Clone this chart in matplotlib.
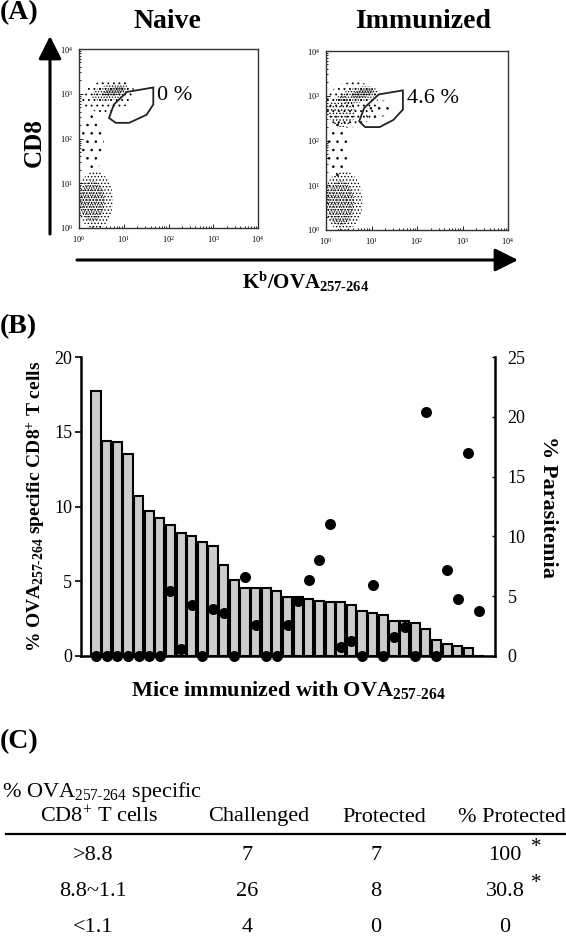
import matplotlib
matplotlib.use('Agg')
import matplotlib.pyplot as plt
from matplotlib.patches import Ellipse, Polygon, FancyArrowPatch
from matplotlib.lines import Line2D
import numpy as np

plt.rcParams['font.family'] = ['Liberation Serif', 'DejaVu Serif']
plt.rcParams['mathtext.fontset'] = 'custom'
plt.rcParams['mathtext.rm'] = 'Liberation Serif'
plt.rcParams['mathtext.default'] = 'regular'
plt.rcParams['hatch.linewidth'] = 0.6

W, H = 566, 942

# ---- data ----
# panel A: populations (decade coords: log10 of intensity)
naive_cx = [0.65, 0.70, 0.78, 0.30, 0.36, 0.30]
naive_cy = [2.95, 3.03, 3.05, 1.90, 0.62, 0.60]
naive_w = [1.20, 0.85, 0.50, 0.50, 0.80, 0.55]
naive_h = [0.70, 0.35, 0.18, 1.30, 1.30, 0.90]
naive_ang = [10, 12, 15, 0, 0, 0]
naive_dens = ['...', '......', '.........', '..', '.....', '.......']
naive_gate_x = [1.07, 1.66, 1.66, 1.51, 1.12, 0.82, 0.67, 0.78]
naive_gate_y = [3.04, 3.14, 2.76, 2.53, 2.35, 2.35, 2.46, 2.76]

imm_cx = [0.55, 0.35, 0.72, 0.80, 1.15, 0.25, 0.38, 0.32]
imm_cy = [2.80, 2.65, 3.02, 3.05, 2.68, 1.80, 0.65, 0.60]
imm_w = [1.20, 0.60, 0.85, 0.50, 0.60, 0.45, 0.85, 0.60]
imm_h = [1.00, 0.70, 0.35, 0.18, 0.35, 1.20, 1.35, 1.00]
imm_ang = [20, 0, 12, 15, 30, 0, 0, 0]
imm_dens = ['...', '.....', '......', '.........', '..', '..', '.....', '.......']
imm_gate_x = [1.16, 1.69, 1.69, 1.48, 1.18, 0.86, 0.73, 0.84]
imm_gate_y = [3.03, 3.12, 2.69, 2.46, 2.30, 2.30, 2.43, 2.73]

gate_pct = ['0 %', '4.6 %']

# panel B
ova_pct = [17.7, 14.4, 14.3, 13.5, 10.7, 9.67, 9.24, 8.75, 8.2, 8.06, 7.64, 7.33,
           6.08, 5.06, 4.57, 4.57, 4.57, 4.32, 3.96, 3.96, 3.8, 3.7, 3.6, 3.6,
           3.43, 2.98, 2.85, 2.72, 2.32, 2.32, 2.23, 1.83, 1.1, 0.78, 0.68, 0.53, 0.0]
parasitemia = [0, 0, 0, 0, 0, 0, 0, 5.4, 0.56, 4.25, 0, 3.95, 3.56, 0, 6.6, 2.6,
               0, 0, 2.6, 4.6, 6.37, 8.0, 11.0, 0.78, 1.22, 0, 5.97, 0, 1.56, 2.39,
               0, 20.4, 0, 7.2, 4.79, 17.0, 3.8]

# panel C
groups = ['>8.8', '8.8~1.1', '<1.1']
challenged = [7, 26, 4]
protected = [7, 8, 0]
pct_protected = ['100', '30.8', '0']
signif = ['*', '*', '']


def fx(px):
    return px / W


def fy(py):
    return 1 - py / H


fig = plt.figure(figsize=(W / 100, H / 100), dpi=100)

# ---------------- panel A ----------------
def flow_panel(rect, cx, cy, w, h, ang, dens, gx, gy, label):
    ax = fig.add_axes(rect)
    ax.set_xlim(0, 4)
    ax.set_ylim(0, 4)
    for i in range(len(cx)):
        e = Ellipse((cx[i], cy[i]), w[i], h[i], angle=ang[i], fill=False,
                    edgecolor='black', lw=0, hatch=dens[i])
        ax.add_patch(e)
    ax.add_patch(Polygon(np.column_stack([gx, gy]), closed=True, fill=False,
                         edgecolor='#222222', lw=1.3))
    ax.text(max(gx) + 0.08, max(gy) - 0.18, label, fontsize=16, va='center', ha='left')
    dec = np.arange(5)
    minor = np.concatenate([np.log10(np.arange(2, 10)) + d for d in range(4)])
    ax.set_xticks(dec)
    ax.set_yticks(dec)
    ax.set_xticks(minor, minor=True)
    ax.set_yticks(minor, minor=True)
    ticklabels = ['$10^{%d}$' % d for d in dec]
    ax.set_xticklabels(ticklabels)
    ax.set_yticklabels(ticklabels)
    ax.tick_params(which='both', direction='in', labelsize=6, width=0.6,
                   top=False, right=False, pad=4)
    ax.tick_params(which='major', length=3)
    ax.tick_params(which='minor', length=1.5)
    for s in ax.spines.values():
        s.set_linewidth(1.0)
        s.set_color('#333333')
    return ax


flow_panel([fx(79), fy(228), fx(258) - fx(79), fy(49) - fy(228)],
           naive_cx, naive_cy, naive_w, naive_h, naive_ang, naive_dens,
           naive_gate_x, naive_gate_y, gate_pct[0])
flow_panel([fx(326), fy(230), fx(508) - fx(326), fy(51) - fy(230)],
           imm_cx, imm_cy, imm_w, imm_h, imm_ang, imm_dens,
           imm_gate_x, imm_gate_y, gate_pct[1])

fig.text(fx(0), fy(13), '(A)', fontsize=20, fontweight='bold', ha='left', va='center')
fig.text(fx(167), fy(22), 'Naive', fontsize=20, fontweight='bold', ha='center', va='center')
fig.text(fx(423), fy(22), 'Immunized', fontsize=20, fontweight='bold', ha='center', va='center')
fig.text(fx(34), fy(143), 'CD8', fontsize=18, fontweight='bold', rotation=90,
         ha='center', va='center')
fig.text(fx(306), fy(282), 'K$^{b}$/OVA$_{257\\text{-}264}$', fontsize=15,
         fontweight='bold', ha='center', va='center')

arrow_style = '-|>,head_length=0.7,head_width=0.35'
fig.add_artist(FancyArrowPatch((fx(50), fy(234)), (fx(50), fy(36)), transform=fig.transFigure,
                               arrowstyle=arrow_style, mutation_scale=20, lw=2.2,
                               color='black', shrinkA=0, shrinkB=0))
fig.add_artist(FancyArrowPatch((fx(77), fy(260)), (fx(518), fy(260)), transform=fig.transFigure,
                               arrowstyle=arrow_style, mutation_scale=20, lw=2.2,
                               color='black', shrinkA=0, shrinkB=0))

# ---------------- panel B ----------------
axb = fig.add_axes([fx(80.7), fy(656), fx(495) - fx(80.7), fy(357) - fy(656)])
x = np.arange(len(ova_pct))
axb.bar(x, ova_pct, width=0.86, color='#cccccc', edgecolor='black', linewidth=1.5, zorder=2)
axb.set_xlim(-1.44, len(ova_pct) + 0.5)
axb.set_ylim(0, 20)
axb.set_yticks([0, 5, 10, 15, 20])
axb.set_xticks([])
axb.spines['top'].set_visible(False)
axb.spines['right'].set_visible(False)
axb.spines['left'].set_linewidth(1.8)
axb.spines['bottom'].set_linewidth(1.8)
axb.tick_params(axis='y', direction='out', length=4, width=1.2, labelsize=13, pad=2)
axb.set_ylabel('% OVA$_{257\\text{-}264}$ specific CD8$^{+}$ T cells', fontsize=14,
               fontweight='bold', va='center')
axb.yaxis.set_label_coords(-0.108, 0.5)
axb.set_xlabel('Mice immunized with OVA$_{257\\text{-}264}$', fontsize=16, fontweight='bold',
               va='center')
axb.xaxis.set_label_coords(0.5, -0.114)

axp = axb.twinx()
axp.scatter(x, parasitemia, s=48, color='black', zorder=5, clip_on=False)
axp.set_ylim(0, 25)
axp.set_yticks([0, 5, 10, 15, 20, 25])
for side in ['top', 'left', 'bottom']:
    axp.spines[side].set_visible(False)
axp.spines['right'].set_linewidth(1.8)
axp.tick_params(axis='y', direction='in', length=2, width=1.0, labelsize=13, pad=9)
axp.set_ylabel('% Parasitemia', fontsize=16, fontweight='bold', rotation=270)
axp.yaxis.set_label_coords(1.128, 0.5)
axp.yaxis.label.set_va('center')

fig.text(fx(0), fy(327), '(B)', fontsize=20, fontweight='bold', ha='left', va='center')

# ---------------- panel C ----------------
fig.text(fx(0), fy(742), '(C)', fontsize=20, fontweight='bold', ha='left', va='center')
fig.text(fx(2), fy(792), '% OVA$_{257\\text{-}264}$ specific', fontsize=16, ha='left', va='center')
fig.text(fx(99), fy(817), 'CD8$^{+}$ T cells', fontsize=16, ha='center', va='center')
fig.text(fx(259), fy(817), 'Challenged', fontsize=16, ha='center', va='center')
fig.text(fx(384), fy(817), 'Protected', fontsize=16, ha='center', va='center')
fig.text(fx(566), fy(817), '% Protected', fontsize=16, ha='right', va='center')
fig.add_artist(Line2D([fx(6), fx(566)], [fy(834), fy(834)], transform=fig.transFigure,
                      color='black', lw=1.6))

row_y = [856, 892, 928]
for i in range(len(groups)):
    fig.text(fx(93), fy(row_y[i]), groups[i], fontsize=16, ha='center', va='center')
    fig.text(fx(247), fy(row_y[i]), str(challenged[i]), fontsize=16, ha='center', va='center')
    fig.text(fx(376), fy(row_y[i]), str(protected[i]), fontsize=16, ha='center', va='center')
    fig.text(fx(505), fy(row_y[i]), pct_protected[i], fontsize=16, ha='center', va='center')
    if signif[i]:
        fig.text(fx(536), fy(row_y[i] - 9), signif[i], fontsize=15, ha='center', va='center')

fig.savefig('out.png', dpi=100)
